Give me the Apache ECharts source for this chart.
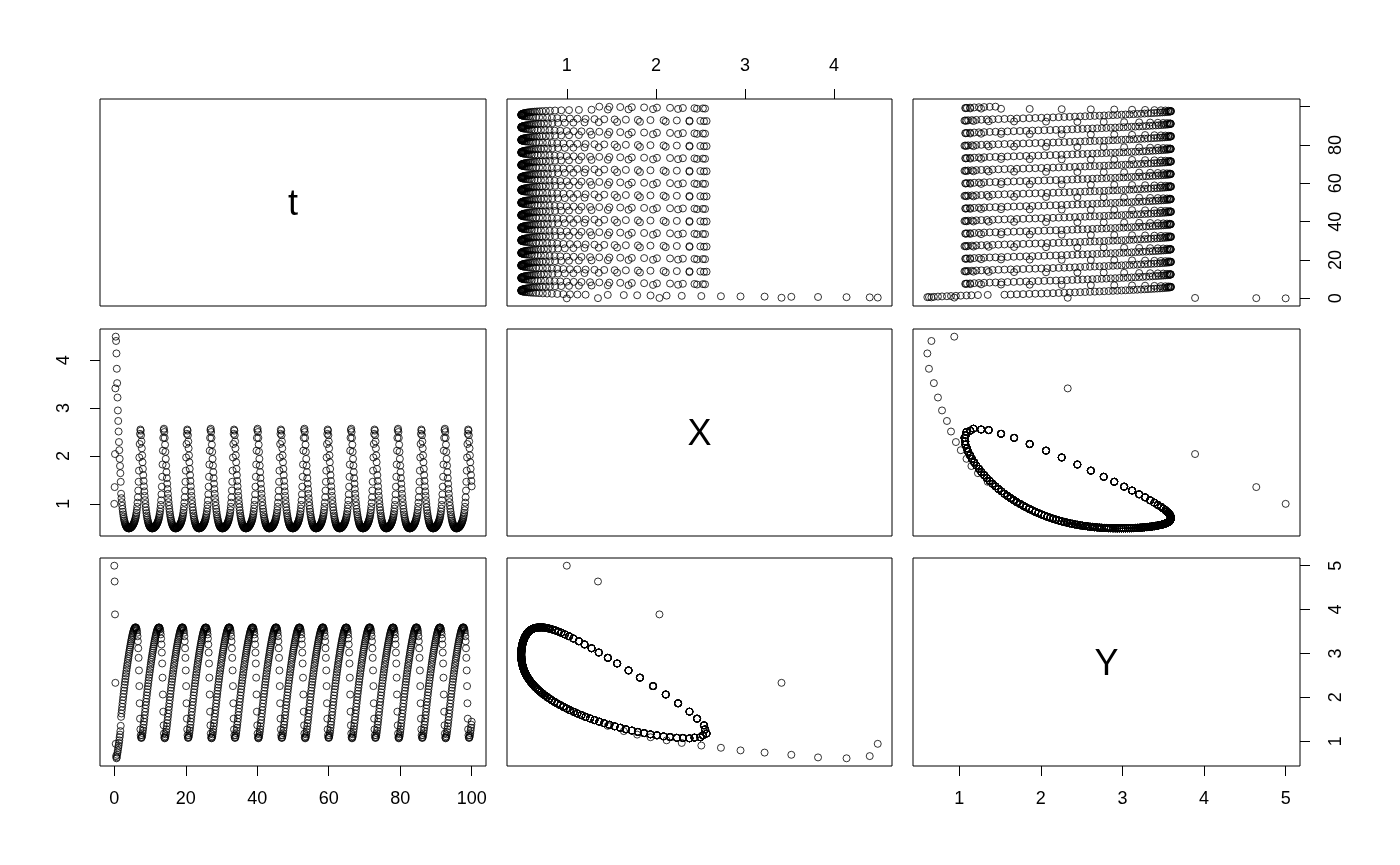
<!DOCTYPE html>
<html>
<head>
<meta charset="utf-8">
<title>pairs(t, X, Y)</title>
<script src="https://cdn.jsdelivr.net/npm/echarts@6/dist/echarts.min.js"></script>
<style>
html, body { margin: 0; padding: 0; background: #fff; }
#main { width: 1400px; height: 865px; }
</style>
</head>
<body>
<div id="main"></div>
<script>
// output grid of the solver
let tStep = 0.1
let tEnd = 100

// start of the run, t = 0 .. 1.8
let startX = [1.00, 1.35, 2.04, 3.41, 4.49, 4.40, 4.14, 3.82, 3.52, 3.22, 2.95, 2.73, 2.51, 2.29, 2.12, 1.94, 1.79, 1.64, 1.46]
let startY = [5.00, 4.64, 3.89, 2.33, 0.94, 0.66, 0.61, 0.63, 0.69, 0.74, 0.79, 0.85, 0.90, 0.96, 1.02, 1.09, 1.15, 1.23, 1.35]

// limit cycle, one pass (66 samples)
let cycleAX = [0.693, 0.725, 0.765, 0.811, 0.868, 0.938, 1.025, 1.136, 1.278, 1.461, 1.693, 1.968, 2.249, 2.462, 2.552, 2.528,
    2.433, 2.303, 2.159, 2.012, 1.868, 1.730, 1.600, 1.478, 1.365, 1.261, 1.165, 1.078, 0.999, 0.927, 0.863, 0.806,
    0.755, 0.710, 0.671, 0.637, 0.608, 0.583, 0.562, 0.544, 0.530, 0.518, 0.508, 0.501, 0.496, 0.492, 0.490, 0.489,
    0.489, 0.491, 0.493, 0.497, 0.501, 0.507, 0.514, 0.521, 0.530, 0.540, 0.551, 0.563, 0.577, 0.592, 0.610, 0.630,
    0.652, 0.678]
let cycleAY = [3.595, 3.594, 3.584, 3.562, 3.527, 3.472, 3.392, 3.278, 3.118, 2.900, 2.613, 2.256, 1.864, 1.513, 1.269, 1.136,
    1.081, 1.074, 1.095, 1.134, 1.184, 1.242, 1.306, 1.374, 1.445, 1.518, 1.593, 1.669, 1.745, 1.821, 1.896, 1.970,
    2.043, 2.115, 2.185, 2.254, 2.321, 2.386, 2.450, 2.512, 2.573, 2.633, 2.691, 2.748, 2.804, 2.858, 2.911, 2.963,
    3.014, 3.064, 3.112, 3.159, 3.205, 3.249, 3.291, 3.332, 3.371, 3.408, 3.443, 3.475, 3.504, 3.530, 3.552, 3.570,
    3.583, 3.591]
// next pass, sampled half a step later (65 samples)
let cycleBX = [0.708, 0.744, 0.788, 0.838, 0.901, 0.978, 1.074, 1.199, 1.359, 1.565, 1.821, 2.111, 2.377, 2.540, 2.569, 2.499,
    2.377, 2.235, 2.086, 1.939, 1.798, 1.663, 1.537, 1.420, 1.311, 1.211, 1.119, 1.036, 0.961, 0.893, 0.833, 0.779,
    0.731, 0.689, 0.653, 0.621, 0.595, 0.572, 0.552, 0.536, 0.523, 0.512, 0.504, 0.498, 0.493, 0.490, 0.489, 0.489,
    0.490, 0.492, 0.495, 0.499, 0.504, 0.510, 0.517, 0.525, 0.534, 0.545, 0.556, 0.569, 0.584, 0.601, 0.619, 0.640,
    0.665]
let cycleBY = [3.592, 3.590, 3.575, 3.546, 3.501, 3.434, 3.340, 3.205, 3.021, 2.771, 2.448, 2.064, 1.673, 1.362, 1.175, 1.089,
    1.065, 1.077, 1.110, 1.156, 1.211, 1.272, 1.339, 1.409, 1.481, 1.555, 1.631, 1.707, 1.783, 1.859, 1.933, 2.007,
    2.079, 2.150, 2.220, 2.288, 2.354, 2.418, 2.482, 2.543, 2.603, 2.662, 2.720, 2.776, 2.832, 2.885, 2.937, 2.989,
    3.039, 3.088, 3.136, 3.182, 3.227, 3.271, 3.312, 3.352, 3.390, 3.426, 3.460, 3.490, 3.518, 3.542, 3.562, 3.578,
    3.588]
// the run joins pass B here at t = 1.9
let joinIndex = 25

// ticks and the labels written at them
let tTicks = [0, 20, 40, 60, 80, 100]
let tLabelsRight = [0, 20, 40, 60, 80]   // R drops "100" on the right side
let xTicks = [1, 2, 3, 4]
let yTicks = [1, 2, 3, 4, 5]

// ---- build the run ----
let nPts = Math.round(tEnd / tStep) + 1
let X = startX.slice()
let Y = startY.slice()
let passes = [[cycleBX, cycleBY, joinIndex]]
let useA = true
while (X.length < nPts) {
    let p = passes.shift() || (useA ? [cycleAX, cycleAY, 0] : [cycleBX, cycleBY, 0])
    if (p[2] === 0) useA = !useA
    for (let i = p[2]; i < p[0].length && X.length < nPts; i++) {
        X.push(p[0][i])
        Y.push(p[1][i])
    }
}
let T = []
for (let i = 0; i < nPts; i++) T.push(+(i * tStep).toFixed(1))

let vars = [
    { name: 't', data: T, ticks: tTicks, rightLabels: tLabelsRight },
    { name: 'X', data: X, ticks: xTicks },
    { name: 'Y', data: Y, ticks: yTicks }
]
vars.forEach(function (v) {
    let lo = Math.min.apply(null, v.data), hi = Math.max.apply(null, v.data)
    let pad = (hi - lo) * 0.04
    v.min = lo - pad
    v.max = hi + pad
})

// panel boxes
let colLeft = [100, 507, 913], colWidth = [386, 385, 387]
let rowTop = [99, 329, 558], rowHeight = [207, 207, 208]
let font = 'Liberation Sans, Arial, sans-serif'

let grids = [], xAxes = [], yAxes = [], series = [], texts = []
for (let r = 0; r < 3; r++) {
    for (let c = 0; c < 3; c++) {
        let g = grids.length
        grids.push({
            left: colLeft[c], top: rowTop[r], width: colWidth[c], height: rowHeight[r],
            show: true, borderColor: '#000', borderWidth: 1, backgroundColor: 'transparent'
        })
        let xv = vars[c], yv = vars[r]
        let xPos = null, yPos = null
        if (r === 2 && c !== 1) xPos = 'bottom'
        if (r === 0 && c === 1) xPos = 'top'
        if (c === 0 && r === 1) yPos = 'left'
        if (c === 2 && r !== 1) yPos = 'right'
        xAxes.push({
            gridIndex: g, type: 'value', min: xv.min, max: xv.max,
            show: !!xPos, position: xPos || 'bottom',
            axisLine: { show: false, onZero: false },
            axisTick: { show: true, inside: false, length: 10, customValues: xv.ticks, lineStyle: { color: '#000', width: 1 } },
            axisLabel: { show: true, customValues: xv.ticks, margin: 24, fontSize: 18, color: '#000', fontFamily: font },
            splitLine: { show: false }
        })
        let yLabels = (yPos === 'right' && yv.rightLabels) ? yv.rightLabels : yv.ticks
        yAxes.push({
            gridIndex: g, type: 'value', min: yv.min, max: yv.max,
            show: !!yPos, position: yPos || 'left',
            axisLine: { show: false, onZero: false },
            axisTick: { show: true, inside: false, length: 10, customValues: yv.ticks, lineStyle: { color: '#000', width: 1 } },
            axisLabel: {
                show: true, customValues: yLabels, rotate: 90, margin: 27,
                fontSize: 18, color: '#000', fontFamily: font
            },
            splitLine: { show: false }
        })
        if (r === c) {
            texts.push({
                type: 'text',
                x: colLeft[c] + colWidth[c] / 2,
                y: rowTop[r] + rowHeight[r] / 2 + 3,
                style: { text: xv.name, fontSize: 36, fontFamily: font, fill: '#000', align: 'center', verticalAlign: 'middle' }
            })
            continue
        }
        let pts = []
        for (let i = 0; i < nPts; i++) pts.push([xv.data[i], yv.data[i]])
        series.push({
            type: 'scatter', xAxisIndex: g, yAxisIndex: g, data: pts,
            symbol: 'circle', symbolSize: 7, silent: true,
            itemStyle: { color: 'rgba(0,0,0,0)', borderColor: '#000', borderWidth: 1 }
        })
    }
}

let chart = echarts.init(document.getElementById('main'))
chart.setOption({
    animation: false,
    backgroundColor: '#fff',
    grid: grids,
    xAxis: xAxes,
    yAxis: yAxes,
    series: series,
    graphic: texts
})
</script>
</body>
</html>
